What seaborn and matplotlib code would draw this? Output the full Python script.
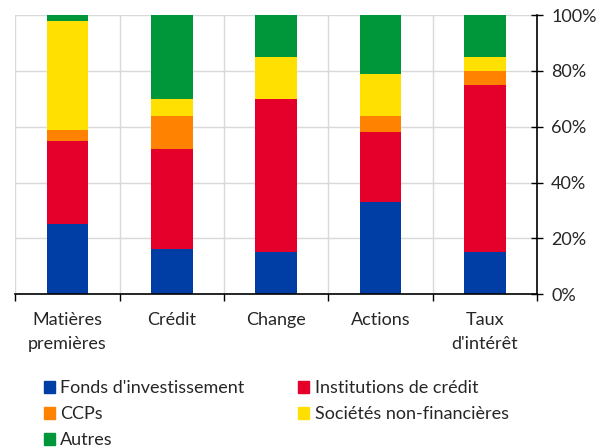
import matplotlib.pyplot as plt
import numpy as np
import pandas as pd
import seaborn as sns
from matplotlib.patches import Patch
from matplotlib.ticker import PercentFormatter, FixedLocator

categories = ["Matières\npremières", "Crédit", "Change", "Actions", "Taux\nd'intérêt"]
series = ["Fonds d'investissement", "Institutions de crédit", "CCPs",
          "Sociétés non-financières", "Autres"]
fonds = [25, 16, 15, 33, 15]
institutions = [30, 36, 55, 25, 60]
ccps = [4, 12, 0, 6, 5]
societes = [39, 6, 15, 15, 5]
autres = [2, 30, 15, 21, 15]
colors = ["#003DA5", "#E4002B", "#FF8200", "#FFE000", "#00963A"]

df = pd.DataFrame({"cat": categories, series[0]: fonds, series[1]: institutions,
                   series[2]: ccps, series[3]: societes, series[4]: autres})
cum = df[series].cumsum(axis=1)

sns.set_style("white")
plt.rcParams["font.family"] = ["Lato", "DejaVu Sans"]

fig = plt.figure(figsize=(6.09, 4.47), dpi=100)
ax = fig.add_axes([0.025, 0.342, 0.857, 0.624])

# draw cumulative totals from the top down so lower segments overlay
for s, c in reversed(list(zip(series, colors))):
    sns.barplot(x=df["cat"], y=cum[s], color=c, width=0.4, ax=ax,
                saturation=1, linewidth=0)

ax.set_xlim(-0.5, 4.5)
ax.set_ylim(0, 100)
ax.set_xlabel("")
ax.set_ylabel("")
ax.yaxis.tick_right()
ax.yaxis.set_major_formatter(PercentFormatter(decimals=0))
ax.set_yticks(np.arange(0, 101, 20))
ax.xaxis.set_minor_locator(FixedLocator(np.arange(-0.5, 4.6, 1)))
ax.tick_params(axis="x", which="major", length=0, labelsize=13, pad=13)
for t in ax.get_xticklabels():
    t.set_linespacing(1.6)
ax.tick_params(axis="x", which="minor", length=5, width=1, direction="out", color="black", bottom=True)
ax.tick_params(axis="y", length=8, width=1, direction="inout", color="black", labelsize=13, right=True, pad=6)
ax.grid(True, which="major", axis="y", color="#d9d9d9", lw=1)
ax.grid(True, which="minor", axis="x", color="#d9d9d9", lw=1)
ax.set_axisbelow(True)
for sp in ["top", "left"]:
    ax.spines[sp].set_visible(False)
for sp in ["bottom", "right"]:
    ax.spines[sp].set_color("black")
    ax.spines[sp].set_linewidth(1.2)

order = [0, 2, 4, 1, 3]
handles = [Patch(color=colors[i], label=series[i]) for i in order]
fig.legend(handles=handles, ncol=2, loc="upper left", bbox_to_anchor=(0.06, 0.165),
           frameon=False, fontsize=13, handlelength=0.6, handleheight=0.6,
           handletextpad=0.3, columnspacing=3.0, labelspacing=0.55, borderaxespad=0)

fig.savefig("out.png", dpi=100)
